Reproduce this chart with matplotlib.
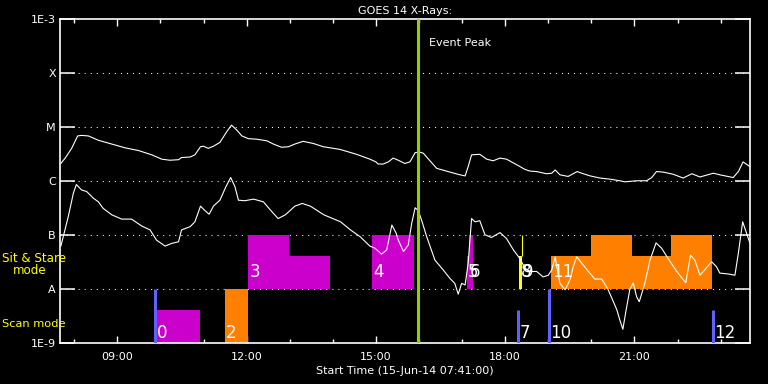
import matplotlib
matplotlib.use("Agg")
from matplotlib import pyplot as plt
from matplotlib.ticker import FixedLocator
import numpy as np

# GOES 14 long channel (1-8 A), time in hours of 15-Jun-14, flux in W/m^2 (log10)
long_t = [7.69, 7.79, 7.94, 8.08, 8.17, 8.33, 8.56, 8.87, 9.18, 9.49, 9.80, 10.03, 10.22, 10.42,
          10.49, 10.69, 10.80, 10.93, 11.00, 11.11, 11.23, 11.38, 11.54, 11.65, 11.77, 11.89,
          12.04, 12.23, 12.47, 12.62, 12.81, 12.97, 13.12, 13.31, 13.55, 13.78, 14.17, 14.55,
          14.86, 15.00, 15.05, 15.17, 15.29, 15.40, 15.52, 15.67, 15.79, 15.91, 16.02, 16.10,
          16.22, 16.41, 16.72, 16.95, 17.07, 17.14, 17.22, 17.41, 17.57, 17.72, 17.88, 18.03,
          18.26, 18.46, 18.57, 18.73, 18.96, 19.08, 19.16, 19.27, 19.46, 19.67, 19.81, 19.97,
          20.20, 20.43, 20.66, 20.78, 21.05, 21.28, 21.40, 21.51, 21.67, 21.90, 22.13, 22.33,
          22.52, 22.83, 22.98, 23.29, 23.41, 23.52, 23.68]
long_log = [-5.67, -5.57, -5.39, -5.16, -5.15, -5.16, -5.24, -5.31, -5.38, -5.43, -5.51, -5.59,
            -5.61, -5.60, -5.56, -5.55, -5.51, -5.36, -5.35, -5.39, -5.35, -5.28, -5.08, -4.96,
            -5.05, -5.16, -5.21, -5.22, -5.25, -5.31, -5.37, -5.36, -5.31, -5.26, -5.30, -5.36,
            -5.41, -5.50, -5.59, -5.64, -5.68, -5.68, -5.64, -5.57, -5.61, -5.67, -5.64, -5.47,
            -5.46, -5.48, -5.59, -5.76, -5.83, -5.88, -5.90, -5.73, -5.51, -5.50, -5.59, -5.62,
            -5.57, -5.59, -5.69, -5.78, -5.81, -5.82, -5.86, -5.85, -5.79, -5.88, -5.91, -5.82,
            -5.86, -5.90, -5.94, -5.96, -5.99, -6.01, -5.99, -5.99, -5.93, -5.82, -5.83, -5.87,
            -5.94, -5.86, -5.92, -5.85, -5.88, -5.93, -5.82, -5.64, -5.73]

# short channel (0.5-4 A)
short_t = [7.69, 7.75, 7.86, 7.98, 8.05, 8.17, 8.29, 8.44, 8.56, 8.67, 8.87, 9.10, 9.33, 9.57,
           9.76, 9.91, 10.11, 10.26, 10.42, 10.49, 10.69, 10.80, 10.93, 11.03, 11.13, 11.23,
           11.38, 11.52, 11.63, 11.73, 11.81, 11.96, 12.16, 12.39, 12.55, 12.73, 12.90, 13.12,
           13.29, 13.48, 13.79, 14.18, 14.41, 14.64, 14.86, 14.98, 15.13, 15.25, 15.37, 15.47,
           15.52, 15.64, 15.75, 15.83, 15.91, 15.98, 16.06, 16.18, 16.37, 16.56, 16.72, 16.83,
           16.91, 16.99, 17.07, 17.14, 17.22, 17.30, 17.41, 17.53, 17.68, 17.88, 18.03, 18.19,
           18.34, 18.46, 18.57, 18.73, 18.88, 19.00, 19.08, 19.16, 19.21, 19.27, 19.39, 19.50,
           19.58, 19.66, 19.78, 19.93, 20.08, 20.24, 20.39, 20.51, 20.59, 20.66, 20.73, 20.80,
           20.89, 20.97, 21.05, 21.11, 21.24, 21.36, 21.50, 21.63, 21.78, 21.98, 22.19, 22.30,
           22.40, 22.52, 22.63, 22.79, 22.90, 22.98, 23.21, 23.33, 23.41, 23.51, 23.68]
short_log = [-7.20, -7.01, -6.66, -6.22, -6.06, -6.16, -6.19, -6.31, -6.38, -6.50, -6.62, -6.70,
             -6.70, -6.83, -6.90, -7.09, -7.20, -7.15, -7.12, -6.90, -6.84, -6.75, -6.46, -6.54,
             -6.61, -6.46, -6.35, -6.10, -5.93, -6.10, -6.35, -6.36, -6.33, -6.38, -6.53, -6.69,
             -6.62, -6.46, -6.41, -6.46, -6.62, -6.75, -6.90, -7.03, -7.20, -7.24, -7.35, -7.27,
             -6.81, -6.96, -7.09, -7.30, -7.18, -6.78, -6.49, -6.54, -6.72, -7.03, -7.46, -7.64,
             -7.80, -7.89, -8.09, -7.89, -7.92, -7.52, -6.69, -6.75, -6.73, -6.99, -7.04, -6.95,
             -7.06, -7.27, -7.43, -7.61, -7.67, -7.67, -7.77, -7.74, -7.64, -7.40, -7.64, -7.89,
             -8.01, -7.83, -7.58, -7.40, -7.52, -7.67, -7.81, -7.81, -8.01, -8.23, -8.38, -8.57,
             -8.74, -8.41, -8.01, -7.88, -8.14, -8.23, -7.89, -7.46, -7.14, -7.24, -7.43, -7.67,
             -7.88, -7.37, -7.46, -7.74, -7.64, -7.49, -7.58, -7.70, -7.72, -7.74, -7.33, -6.75,
             -7.15]

peak_time = 15.97

# observing blocks: start, end, top flux
scan_start = [9.90, 11.50]
scan_end = [10.93, 12.03]
scan_top = [4.2e-9, 1e-8]
scan_color = ["#cc00cc", "#ff8000"]

sit_start = [12.04, 12.98, 14.91, 17.12, 17.16, 18.33, 19.06, 20.00, 20.94, 21.85]
sit_end = [12.98, 13.93, 15.88, 17.16, 17.26, 18.40, 20.00, 20.94, 21.85, 22.79]
sit_top = [1e-7, 4.2e-8, 1e-7, 4.2e-8, 1e-7, 4.2e-8, 4.2e-8, 1e-7, 4.2e-8, 1e-7]
sit_color = ["#cc00cc", "#cc00cc", "#cc00cc", "#cc00cc", "#cc00cc", "#ffff00",
             "#ff8000", "#ff8000", "#ff8000", "#ff8000"]

mark_t = [9.88, 18.30, 19.02, 22.81]
mark_top = [1e-8, 4.2e-9, 1e-8, 4.2e-9]

# event numbers
scan_lab = ["0", "2", "7", "10", "12"]
scan_lab_t = [9.92, 11.52, 18.33, 19.05, 22.84]
sit_lab = ["3", "4", "5", "6", "8", "9", "11"]
sit_lab_t = [12.06, 14.93, 17.13, 17.17, 18.37, 18.42, 19.08]

yticks = [1e-9, 1e-8, 1e-7, 1e-6, 1e-5, 1e-4, 1e-3]
ylabels = ["1E-9", "A", "B", "C", "M", "X", "1E-3"]
xticks = [9, 12, 15, 18, 21]
xlabels = ["09:00", "12:00", "15:00", "18:00", "21:00"]

plt.rcParams['font.family'] = ['DejaVu Sans']
fig = plt.figure(figsize=(7.68, 3.84), dpi=100, facecolor='black')
ax = fig.add_axes([60/768, 1 - 343.3/384, 690/768, 324/384], facecolor='black')
ax.set_yscale('log')
ax.set_xlim(7.67, 23.68)
ax.set_ylim(1e-9, 1e-3)

for s in ax.spines.values():
    s.set_color('white')
    s.set_linewidth(1.2)

# dotted grid
for y in yticks[1:-1]:
    ax.axhline(y, color='white', lw=0.75, ls=(0, (1, 4.8)), zorder=1)

# blocks
ax.bar(scan_start, np.array(scan_top) - 1e-9, bottom=1e-9,
       width=np.array(scan_end) - np.array(scan_start), align='edge',
       color=scan_color, zorder=2, linewidth=0)
ax.bar(sit_start, np.array(sit_top) - 1e-8, bottom=1e-8,
       width=np.array(sit_end) - np.array(sit_start), align='edge',
       color=sit_color, zorder=2, linewidth=0)
ax.vlines(mark_t, 1e-9, mark_top, color='#6060ff', lw=2.2, zorder=3)
ax.vlines([18.39], 4.2e-8, 1e-7, color='#ffff00', lw=0.8, zorder=3)

numfont = dict(color='white', fontsize=12, va='center', ha='left', zorder=5)
for lab, t in zip(scan_lab, scan_lab_t):
    ax.text(t, 10**-8.8, lab, **numfont)
for lab, t in zip(sit_lab, sit_lab_t):
    ax.text(t, 10**-7.68, lab, **numfont)

# flux curves
ax.plot(long_t, 10**np.array(long_log), color='white', lw=0.8, zorder=4)
ax.plot(short_t, 10**np.array(short_log), color='white', lw=0.8, zorder=4)

ax.axvline(peak_time, color='#9acd00', lw=2.2, zorder=4)
ax.annotate('Event Peak', xy=(peak_time, 10**-3.43), xytext=(8, 0),
            textcoords='offset points', color='white', fontsize=8, va='center', ha='left')

ax.set_yticks(yticks)
ax.set_yticklabels(ylabels)
ax.yaxis.set_minor_locator(FixedLocator([]))
ax.tick_params(axis='y', which='major', direction='in', length=10.5, width=1.1,
               color='white', labelcolor='white', labelsize=8, left=True, right=True, pad=3)
ax.set_xticks(xticks)
ax.set_xticklabels(xlabels)
ax.xaxis.set_minor_locator(FixedLocator(range(8, 24)))
ax.tick_params(axis='x', which='major', direction='in', length=5, width=1,
               color='white', labelcolor='white', labelsize=8, top=True, bottom=True, pad=6)
ax.tick_params(axis='x', which='minor', direction='in', length=3, width=1,
               color='white', top=True, bottom=True)

ax.set_title('GOES 14 X-Rays:', color='white', fontsize=8, pad=4)
ax.set_xlabel('Start Time (15-Jun-14 07:41:00)', color='white', fontsize=8, labelpad=3)

fig.text(2/768, 1 - 259/384, 'Sit & Stare', color='#ffff00', fontsize=8.6, va='center', ha='left')
fig.text(13/768, 1 - 271/384, 'mode', color='#ffff00', fontsize=8.6, va='center', ha='left')
fig.text(2/768, 1 - 324/384, 'Scan mode', color='#ffff00', fontsize=8.2, va='center', ha='left')

fig.savefig('out.png', dpi=100, facecolor='black')
